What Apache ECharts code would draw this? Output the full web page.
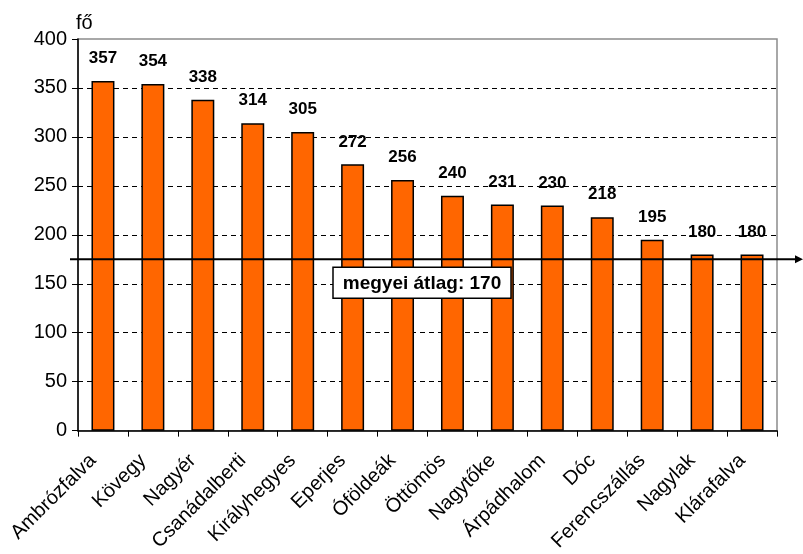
<!DOCTYPE html>
<html><head><meta charset="utf-8">
<script src="https://cdn.jsdelivr.net/npm/echarts@6/dist/echarts.min.js"></script>
<style>html,body{margin:0;padding:0;background:#fff}#c{width:803px;height:554px}</style>
</head><body><div id="c"></div>
<script>
var categories = ['Ambrózfalva','Kövegy','Nagyér','Csanádalberti','Királyhegyes','Eperjes','Óföldeák','Öttömös','Nagytőke','Árpádhalom','Dóc','Ferencszállás','Nagylak','Klárafalva'];
var values = [357,354,338,314,305,272,256,240,231,230,218,195,180,180];
var yTicks = [0,50,100,150,200,250,300,350,400];
var averageLineValue = 175;
var averageLabel = 'megyei átlag: 170';
var unitName = 'fő';

var FONT = 'Liberation Sans, Arial, sans-serif';
var chart = echarts.init(document.getElementById('c'), null, {renderer:'canvas'});
chart.setOption({
  animation:false,
  backgroundColor:'#fff',
  grid:{left:78,right:26,top:39,bottom:122,show:true,borderColor:'#8c8c8c',borderWidth:1.5,backgroundColor:'transparent'},
  xAxis:{type:'category',data:categories,
    axisLine:{lineStyle:{color:'#000',width:1.5}},
    axisTick:{show:true,length:6,lineStyle:{color:'#000'}},
    axisLabel:{rotate:45,fontFamily:FONT,fontSize:20,color:'#000',margin:17,padding:[0,14,0,0],interval:0}},
  yAxis:{type:'value',min:yTicks[0],max:yTicks[yTicks.length-1],interval:yTicks[1]-yTicks[0],
    name:unitName,nameLocation:'end',nameGap:6,
    nameTextStyle:{fontFamily:FONT,fontSize:20,color:'#000',align:'left',padding:[0,0,0,-2]},
    axisLine:{show:true,lineStyle:{color:'#000',width:1.5}},
    axisTick:{show:true,length:6,lineStyle:{color:'#000'}},
    axisLabel:{fontFamily:FONT,fontSize:20,color:'#000',margin:11},
    splitLine:{show:true,showMinLine:false,showMaxLine:false,lineStyle:{color:'#000',type:[5,4],width:1}}},
  series:[{type:'bar',data:values,barWidth:'46%',
    itemStyle:{color:'#FF6600',borderColor:'#000',borderWidth:1.5},
    label:{show:true,position:'top',distance:14,fontFamily:FONT,fontWeight:'bold',fontSize:17,color:'#000'}}]
});
function drawAvg(){
  var y = chart.convertToPixel({yAxisIndex:0}, averageLineValue);
  chart.setOption({graphic:[
    {type:'line',shape:{x1:70,y1:y,x2:797,y2:y},style:{stroke:'#000',lineWidth:2},z:100},
    {type:'polygon',shape:{points:[[795,y-4],[803,y],[795,y+4]]},style:{fill:'#000'},z:100},
    {type:'rect',shape:{x:333,y:y+8,width:178,height:31},style:{fill:'#fff',stroke:'#000',lineWidth:1.5},z:100},
    {type:'text',x:422,y:y+24,style:{text:averageLabel,fontFamily:FONT,fontWeight:'bold',fontSize:19,fill:'#000',align:'center',verticalAlign:'middle'},z:101}
  ]});
}
drawAvg();
</script></body></html>
